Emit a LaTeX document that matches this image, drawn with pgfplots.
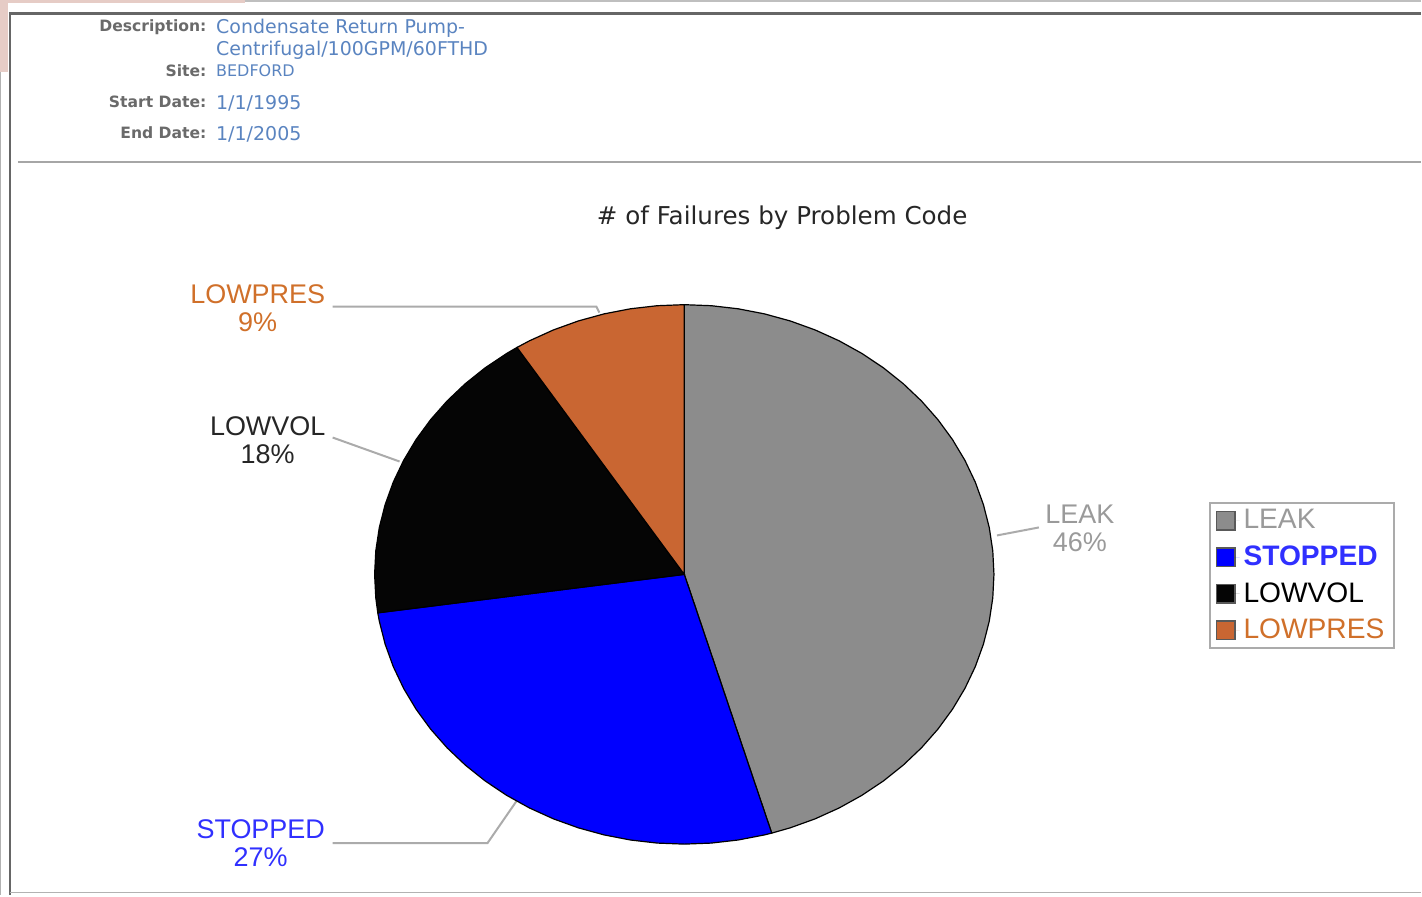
\documentclass[border=0pt]{standalone}
\usepackage{pgfplots}
\pgfplotsset{compat=1.18}
\usepackage{fontspec}
\setmainfont{Liberation Sans}
\newfontfamily\dv{DejaVu Sans}
\definecolor{cLeak}{HTML}{8C8C8C}
\definecolor{cStop}{HTML}{0000FF}
\definecolor{cVol}{HTML}{050505}
\definecolor{cPres}{HTML}{C96632}
\definecolor{tPres}{HTML}{D0702A}
\definecolor{tStop}{HTML}{3030FF}
\definecolor{tLeak}{HTML}{9A9A9A}
\definecolor{hdr}{HTML}{6A6A6A}
\definecolor{val}{HTML}{5A84C0}
\definecolor{lead}{HTML}{ABABAB}
\definecolor{pinkish}{HTML}{E6CCC6}
\begin{document}
\begin{tikzpicture}[x=0.5pt,y=-0.5pt]
\path (0,0) rectangle (1422,896);
\coordinate (pc) at (685,575);
% frame
\fill[pinkish] (0,0) rectangle (8,72);
\fill[pinkish] (0,0) rectangle (245,3);
\draw[line width=0.6pt,color=black!25] (245,1) -- (1422,1);
\draw[line width=0.5pt,color=black!30] (1,72) -- (1,896);
\draw[line width=1.5pt,color=black!60] (9,14) -- (1422,14);
\draw[line width=1.2pt,color=black!60] (10,14) -- (10,896);
\draw[line width=0.8pt,color=black!30] (10,893.5) -- (1422,893.5);
\draw[line width=1pt,color=black!35] (18,162) -- (1422,162);
% header
\begin{scope}[every node/.style={inner sep=0pt}]
\node[anchor=base east,font=\dv\bfseries\fontsize{7.8}{8}\selectfont,color=hdr] at (207,32) {Description:};
\node[anchor=base east,font=\dv\bfseries\fontsize{7.8}{8}\selectfont,color=hdr] at (207,77) {Site:};
\node[anchor=base east,font=\dv\bfseries\fontsize{7.8}{8}\selectfont,color=hdr] at (207,108) {Start Date:};
\node[anchor=base east,font=\dv\bfseries\fontsize{7.8}{8}\selectfont,color=hdr] at (207,139) {End Date:};
\node[anchor=base west,font=\dv\fontsize{9.5}{10}\selectfont,color=val] at (216,34) {Condensate Return Pump-};
\node[anchor=base west,font=\dv\fontsize{9.5}{10}\selectfont,color=val] at (216,56) {Centrifugal/100GPM/60FTHD};
\node[anchor=base west,font=\dv\fontsize{8}{9}\selectfont,color=val] at (216,77) {BEDFORD};
\node[anchor=base west,font=\dv\fontsize{9.5}{10}\selectfont,color=val] at (216,110) {1/1/1995};
\node[anchor=base west,font=\dv\fontsize{9.5}{10}\selectfont,color=val] at (216,141) {1/1/2005};
% title
\node[anchor=base,font=\dv\fontsize{12.3}{13}\selectfont,color=black!85] at (783,225) {\# of Failures by Problem Code};
\end{scope}
% leader lines
\draw[lead,line width=1pt] (333,307) -- (597,307) -- (600,313);
\draw[lead,line width=1pt] (333,438) -- (400,462);
\draw[lead,line width=1pt] (333,844) -- (488,844) -- (517,802);
\draw[lead,line width=1pt] (998,536) -- (1040,528);
% pie labels
\begin{scope}[every node/.style={inner sep=0pt,align=center,font=\fontsize{13.5}{14}\selectfont}]
\node[color=tPres] at (258,309) {LOWPRES\\9\%};
\node[color=black!85] at (268,441) {LOWVOL\\18\%};
\node[color=tStop] at (261,844) {STOPPED\\27\%};
\node[color=tLeak] at (1081,529) {LEAK\\46\%};
\end{scope}
\begin{axis}[
  at={(pc)}, anchor=center,
  scale only axis, width=310pt, height=270pt,
  xmin=-1, xmax=1, ymin=-1, ymax=1,
  hide axis, clip=false,
  legend style={at={(1.3468,0.6333)}, anchor=north west, draw=lead, line width=1pt,
    font=\fontsize{14.1}{15}\selectfont, row sep=3pt, inner xsep=3pt, inner ysep=1pt,
    cells={anchor=west}},
  legend image code/.code={\draw[#1,draw=black!65,line width=0.8pt] (0pt,-4.6pt) rectangle (9.2pt,4.6pt); \path[draw=none] (0pt,0pt) -- (11.5pt,0pt);},
]
\addplot[data cs=polar, fill=cLeak, draw=black, line width=0.6pt] coordinates {
(0,0) (90,1) (85,1) (80,1) (75,1) (70,1) (65,1) (60,1) (55,1) (50,1) (45,1) (40,1) (35,1) (30,1) (25,1) (20,1) (15,1) (10,1) (5,1) (0,1)
(-5,1) (-10,1) (-15,1) (-20,1) (-25,1) (-30,1) (-35,1) (-40,1) (-45,1) (-50,1) (-55,1) (-60,1) (-65,1) (-70,1) (-73.6,1)
} -- cycle;
\addlegendentry{\textcolor{tLeak}{LEAK}}
\addplot[data cs=polar, fill=cStop, draw=black, line width=0.6pt] coordinates {
(0,0) (-73.6,1) (-75,1) (-80,1) (-85,1) (-90,1) (-95,1) (-100,1) (-105,1) (-110,1) (-115,1) (-120,1) (-125,1) (-130,1) (-135,1) (-140,1) (-145,1) (-150,1) (-155,1) (-160,1) (-165,1) (-170,1) (-171.8,1)
} -- cycle;
\addlegendentry{\textcolor{tStop}{\bfseries STOPPED}}
\addplot[data cs=polar, fill=cVol, draw=black, line width=0.6pt] coordinates {
(0,0) (-171.8,1) (-175,1) (-180,1) (-185,1) (-190,1) (-195,1) (-200,1) (-205,1) (-210,1) (-215,1) (-220,1) (-225,1) (-230,1) (-235,1) (-237.3,1)
} -- cycle;
\addlegendentry{\textcolor{black}{LOWVOL}}
\addplot[data cs=polar, fill=cPres, draw=black, line width=0.6pt] coordinates {
(0,0) (-237.3,1) (-240,1) (-245,1) (-250,1) (-255,1) (-260,1) (-265,1) (-270,1)
} -- cycle;
\addlegendentry{\textcolor{tPres}{LOWPRES}}
\end{axis}
\end{tikzpicture}
\end{document}
